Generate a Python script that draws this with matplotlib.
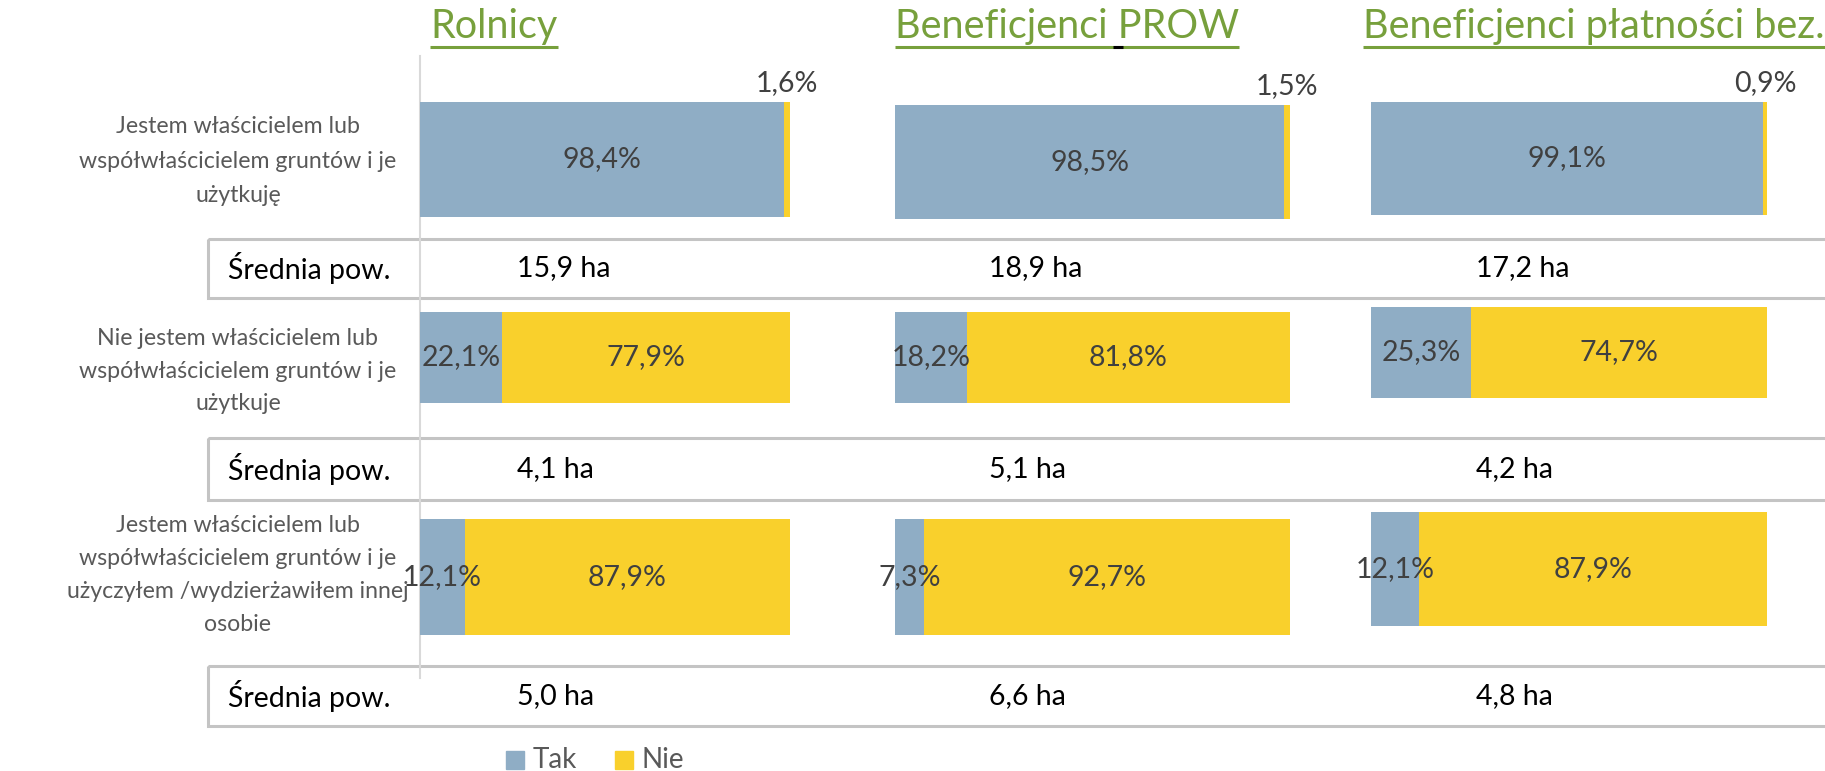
import matplotlib
matplotlib.use("Agg")
import matplotlib.pyplot as plt
from matplotlib.patches import Rectangle

# data
groups = ['Rolnicy', 'Beneficjenci PROW', 'Beneficjenci płatności bez.']
categories = ['Jestem właścicielem lub\nwspółwłaścicielem gruntów i je\nużytkuję',
              'Nie jestem właścicielem lub\nwspółwłaścicielem gruntów i je\nużytkuje',
              'Jestem właścicielem lub\nwspółwłaścicielem gruntów i je\nużyczyłem /wydzierżawiłem innej\nosobie']
tak = [[98.4, 22.1, 12.1], [98.5, 18.2, 7.3], [99.1, 25.3, 12.1]]
nie = [[1.6, 77.9, 87.9], [1.5, 81.8, 92.7], [0.9, 74.7, 87.9]]
avg_area = [[15.9, 4.1, 5.0], [18.9, 5.1, 6.6], [17.2, 4.2, 4.8]]
avg_label = 'Średnia pow.'
legend_labels = ['Tak', 'Nie']

BLUE = '#8FADC5'
YELLOW = '#F9D02C'
GREEN = '#77A03C'
TXT = '#404040'

plt.rcParams['font.family'] = ['Lato', 'DejaVu Sans']

W, H = 1825, 771
fig = plt.figure(figsize=(W / 100, H / 100), dpi=100)
bg = fig.add_axes([0, 0, 1, 1])
bg.set_xlim(0, W)
bg.set_ylim(H, 0)
bg.axis('off')

def fmt(v):
    return f'{v:.1f}'.replace('.', ',')

# layout in pixels
panel_x = [(420, 790), (895, 1290), (1371, 1767)]
bar_y = [[(102, 217), (312, 403), (519, 635)],
         [(105, 219), (312, 403), (519, 635)],
         [(102, 215), (307, 398), (512, 626)]]
box_y = [(239, 298), (438, 500), (666, 726)]
val_x = [517, 989, 1476]
label_y = [161, 371, 575]
label_ls = [1.8, 1.7, 1.7]
title_x = [494, 1067, 1594]

# boxes with average area
for b, (y0, y1) in enumerate(box_y):
    bg.add_patch(Rectangle((208, y0), W - 208 + 5, y1 - y0, fill=False,
                           edgecolor='#C4C4C4', lw=2.2))
    yc = (y0 + y1) / 2
    bg.text(228, yc, avg_label, fontsize=20.5, color='black', va='center', ha='left')
    for g in range(3):
        bg.text(val_x[g], yc, f'{fmt(avg_area[g][b])} ha', fontsize=20.5,
                color='black', va='center', ha='left')

# vertical axis line
bg.plot([420, 420], [56, 678], color='#D9D9D9', lw=1.5)

# category labels
for c, lab in enumerate(categories):
    bg.text(238, label_y[c], lab, fontsize=16.7, color='#595959', ha='center',
            va='center', linespacing=label_ls[c])

# bars
for g in range(3):
    x0, x1 = panel_x[g]
    for c in range(3):
        y0, y1 = bar_y[g][c]
        ax = fig.add_axes([x0 / W, 1 - y1 / H, (x1 - x0) / W, (y1 - y0) / H])
        ax.set_xlim(0, 100)
        ax.set_ylim(-0.5, 0.5)
        ax.axis('off')
        ax.barh(0, tak[g][c], height=1, color=BLUE)
        ax.barh(0, nie[g][c], left=tak[g][c], height=1, color=YELLOW)
        ax.text(tak[g][c] / 2, 0, fmt(tak[g][c]) + '%', ha='center', va='center',
                fontsize=20.5, color=TXT)
        if nie[g][c] < 5:
            ax.annotate(fmt(nie[g][c]) + '%', (tak[g][c] + nie[g][c] / 2, 0.5),
                        xytext=(0, 6), textcoords='offset pixels', ha='center',
                        va='bottom', fontsize=20.5, color=TXT, annotation_clip=False)
        else:
            ax.text(tak[g][c] + nie[g][c] / 2, 0, fmt(nie[g][c]) + '%', ha='center',
                    va='center', fontsize=20.5, color=TXT)

# titles with underline
titles = []
for g, t in enumerate(groups):
    titles.append(bg.text(title_x[g], 38, t, fontsize=28.5, color=GREEN, ha='center',
                          va='baseline'))
fig.canvas.draw()
inv = bg.transData.inverted()
for t in titles:
    bb = t.get_window_extent()
    (ax0, _), (ax1, _) = inv.transform([[bb.x0, bb.y0], [bb.x1, bb.y1]])
    bg.plot([ax0, ax1], [47, 47], color=GREEN, lw=2.2, solid_capstyle='butt')
# the odd dark piece of underline under the space in "Beneficjenci PROW"
bg.plot([1113, 1123], [47, 47], color='black', lw=2.2, solid_capstyle='butt')

# legend
leg_x = [506, 615]
for i, lab in enumerate(legend_labels):
    bg.add_patch(Rectangle((leg_x[i], 751), 18, 18, color=[BLUE, YELLOW][i]))
    bg.text(leg_x[i] + 27, 760, lab, fontsize=20, color='#595959', va='center',
            ha='left')

fig.savefig('out.png', dpi=100)
